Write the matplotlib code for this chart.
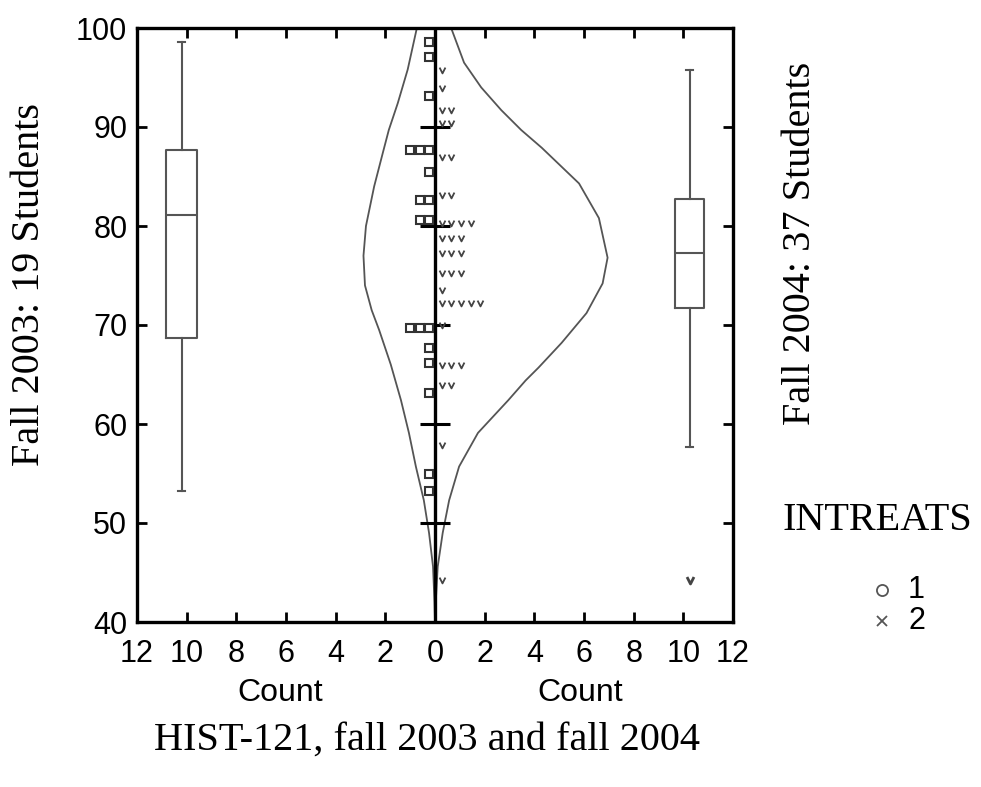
import numpy as np
import matplotlib
matplotlib.use("Agg")
import matplotlib.pyplot as plt
from matplotlib.path import Path
from matplotlib.lines import Line2D

# ---------------- data ----------------
fall2003_scores = [98.6, 97.1, 93.1, 87.7, 87.7, 87.7, 85.5, 82.6, 82.6,
                   80.6, 80.6, 69.7, 69.7, 69.7, 67.7, 66.2, 63.1, 55.0, 53.2]
fall2004_scores = [95.8, 93.9, 91.7, 91.7, 90.4, 90.4, 87.0, 87.0, 83.1, 83.1,
                   80.3, 80.3, 80.3, 80.3, 78.8, 78.8, 78.8, 77.3, 77.3, 77.3,
                   75.3, 75.3, 75.3, 73.5, 72.2, 72.2, 72.2, 72.2, 72.2, 70.0,
                   66.0, 66.0, 66.0, 63.9, 63.9, 57.9, 44.2]

curve2003_score = [100, 95.8, 92.4, 89.7, 87.4, 84.0, 80.0, 77.0, 74.0, 71.5,
                   69.5, 66.0, 62.4, 59.1, 55.7, 52.3, 49.0, 45.6, 42.0, 40.0]
curve2003_count = [0.73, 1.10, 1.50, 1.86, 2.10, 2.45, 2.78, 2.88, 2.82, 2.55,
                   2.25, 1.78, 1.37, 1.05, 0.77, 0.45, 0.24, 0.08, 0.02, 0.0]

curve2004_score = [100, 96.5, 94.0, 91.7, 89.7, 87.9, 84.3, 80.8, 76.8, 74.2,
                   71.2, 68.2, 65.7, 64.4, 62.4, 59.1, 55.7, 52.3, 49.0, 45.6,
                   42.0, 40.0]
curve2004_count = [0.65, 1.17, 1.86, 2.67, 3.47, 4.30, 5.80, 6.60, 6.95, 6.75,
                   6.10, 5.10, 4.17, 3.65, 2.95, 1.73, 0.97, 0.57, 0.31, 0.11,
                   0.03, 0.0]

box2003 = dict(med=81.1, q1=68.7, q3=87.7, whislo=53.2, whishi=98.6, fliers=[])
box2004 = dict(med=77.3, q1=71.7, q3=82.7, whislo=57.7, whishi=95.8, fliers=[44.2])

xtick_vals = [-12, -10, -8, -6, -4, -2, 0, 2, 4, 6, 8, 10, 12]
xtick_labels = ["12", "10", "8", "6", "4", "2", "0", "2", "4", "6", "8", "10", "12"]
ytick_vals = [40, 50, 60, 70, 80, 90, 100]
center_ticks = [50, 60, 70, 80, 90]

# ---------------- figure ----------------
SANS = ["Liberation Sans", "DejaVu Sans"]
SERIF = ["Liberation Serif", "DejaVu Serif"]

fig = plt.figure(figsize=(9.81, 7.87), dpi=100)
ax = fig.add_axes([137 / 981, 1 - 622 / 787, (733 - 137) / 981, (622 - 28) / 787])
ax.set_xlim(-12, 12)
ax.set_ylim(40, 100)

for sp in ax.spines.values():
    sp.set_linewidth(2.4)
    sp.set_color("black")

ax.set_xticks(xtick_vals)
ax.set_xticklabels(xtick_labels, family=SANS, fontsize=22)
ax.set_yticks(ytick_vals)
ax.set_yticklabels([str(v) for v in ytick_vals], family=SANS, fontsize=22)
ax.tick_params(direction="in", top=True, right=True, length=7, width=2,
               labeltop=False, labelright=False)
ax.tick_params(axis="x", pad=12)
ax.tick_params(axis="y", pad=7)

# v-shaped marker
vpath = Path([(-1, 1), (0, -1), (1, 1)], [Path.MOVETO, Path.LINETO, Path.LINETO])

# density curves
ax.plot(-np.array(curve2003_count), curve2003_score, color="#555555", lw=1.3, zorder=2)
ax.plot(np.array(curve2004_count), curve2004_score, color="#555555", lw=1.3, zorder=2)

# center axis and its ticks
ax.axvline(0, color="black", lw=2.4, zorder=3)
ax.hlines(center_ticks, -0.6, 0.6, color="black", lw=2.2, zorder=3)

# stacked dots
sp_left, off_left = 0.376, 0.24
vals, counts = np.unique(fall2003_scores, return_counts=True)
for v, c in zip(vals, counts):
    xs = -(off_left + sp_left * np.arange(c))
    ax.plot(xs, [v] * c, ls="none", marker="s", ms=6.2, mfc="white",
            mec="#333333", mew=1.5, zorder=4)

sp_right, off_right = 0.384, 0.28
vals, counts = np.unique(fall2004_scores, return_counts=True)
for v, c in zip(vals, counts):
    xs = off_right + sp_right * np.arange(c)
    ax.plot(xs, [v] * c, ls="none", marker=vpath, ms=4.2, mfc="none",
            mec="#444444", mew=1.3, zorder=4)

# box plots
bprops = dict(color="#555555", linewidth=1.5)
ax.bxp([box2003], positions=[-10.2], widths=1.25, showfliers=False,
       boxprops=bprops, whiskerprops=bprops, capprops=bprops,
       medianprops=bprops, capwidths=0.3, manage_ticks=False)
ax.bxp([box2004], positions=[10.25], widths=1.2, showfliers=True,
       boxprops=bprops, whiskerprops=bprops, capprops=bprops,
       medianprops=bprops, capwidths=0.3, manage_ticks=False,
       flierprops=dict(marker=vpath, ms=5, mfc="none", mec="#444444", mew=2))

# ---------------- texts ----------------
def fx(px):
    return px / 981

def fy(py):
    return 1 - py / 787

fig.text(fx(30), fy(285), "Fall 2003: 19 Students", rotation=90, ha="center",
         va="center", family=SERIF, fontsize=29)
fig.text(fx(800), fy(243), "Fall 2004: 37 Students", rotation=90, ha="center",
         va="center", family=SERIF, fontsize=29)
fig.text(fx(280), fy(693), "Count", ha="center", va="center", family=SANS, fontsize=23)
fig.text(fx(580), fy(693), "Count", ha="center", va="center", family=SANS, fontsize=23)
fig.text(fx(427), fy(740), "HIST-121, fall 2003 and fall 2004", ha="center",
         va="center", family=SERIF, fontsize=29)

fig.text(fx(877), fy(520), "INTREATS", ha="center", va="center", family=SERIF, fontsize=29)
fig.add_artist(Line2D([fx(882)], [fy(590)], transform=fig.transFigure, ls="none",
                      marker="o", ms=8, mfc="none", mec="#555555", mew=1.3))
fig.add_artist(Line2D([fx(882)], [fy(621)], transform=fig.transFigure, ls="none",
                      marker="x", ms=6.5, mec="#555555", mew=1.3))
fig.text(fx(908), fy(590), "1", ha="left", va="center", family=SANS, fontsize=22)
fig.text(fx(908), fy(621), "2", ha="left", va="center", family=SANS, fontsize=22)

fig.savefig("out.png", dpi=100, facecolor="white")
